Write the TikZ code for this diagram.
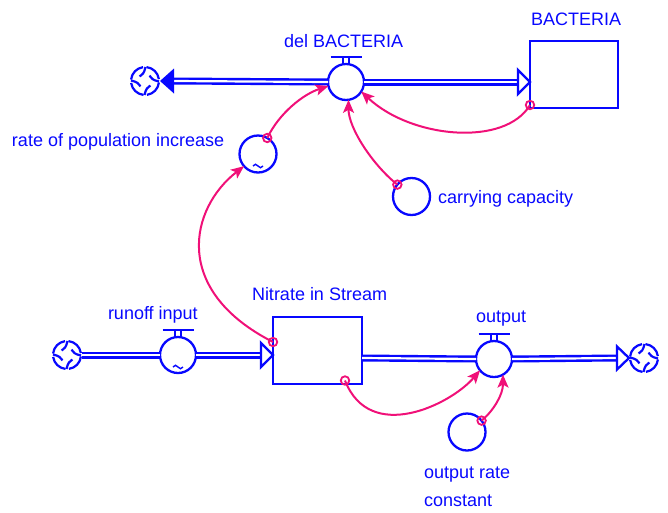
\documentclass[tikz,border=0pt]{standalone}
\usepackage{fontspec}
\setmainfont{Liberation Sans}
\usetikzlibrary{arrows.meta}
\definecolor{sblue}{RGB}{8,8,255}
\definecolor{spink}{RGB}{240,16,120}
\tikzset{
  lbl/.style={anchor=base west, inner sep=0pt, outer sep=0pt, text=sblue, font=\fontsize{18}{21}\selectfont},
  valve/.style={circle, draw=sblue, line width=2.3pt, fill=white, minimum size=36pt, inner sep=0pt, outer sep=0pt},
  conv/.style={circle, draw=sblue, line width=2.3pt, fill=white, minimum size=37pt, inner sep=0pt, outer sep=0pt},
  stock/.style={rectangle, draw=sblue, line width=2.6pt, fill=white, inner sep=0pt, outer sep=0pt},
  cloudspot/.style={circle, minimum size=30pt, inner sep=0pt, outer sep=0pt},
  pipe/.style={draw=sblue, line width=2.4pt, double=white, double distance=2.2pt},
  tri/.style={draw=sblue, line width=2.3pt, fill=white, line join=miter},
  conn/.style={draw=spink, line width=2pt, -{Stealth[length=13pt,width=11pt,inset=3pt]}},
  tap/.style={circle, draw=spink, line width=1.8pt, minimum size=8.5pt, inner sep=0pt, outer sep=0pt},
  tee/.pic={\draw[sblue, line width=1.6pt] (-3pt,0pt) -- (-3pt,7pt) (3pt,0pt) -- (3pt,7pt);
            \draw[sblue, line width=2.8pt] (-15.5pt,7pt) -- (15.5pt,7pt);},
  tild/.pic={\draw[sblue, line width=1.4pt] (-5pt,0pt) .. controls (-3.5pt,2.5pt) and (-1.5pt,2pt) .. (0pt,0pt) .. controls (1.5pt,-2pt) and (3.5pt,-2.5pt) .. (5pt,0pt);},
  cloudsym/.pic={
    \foreach \a in {0,90,180,270}{
      \begin{scope}[rotate=\a]
        \draw[sblue, line width=2.2pt] (8:14pt) arc (8:84:14pt);
        \draw[sblue, line width=2.2pt] (88:14pt) .. controls (95:8pt) and (115:6.5pt) .. (140:7pt);
      \end{scope}
    }
  }
}
\begin{document}
\begin{tikzpicture}[x=1pt,y=-1pt]
\path[use as bounding box] (0,0) rectangle (668,512);

% ---------- top flow ----------
\node[cloudspot] (cA) at (145,81) {};
\node[valve] (vB) at (346,82) {};
\node[stock, minimum width=88pt, minimum height=67pt] (bact) at (574,74.5) {};
\coordinate (inB) at (530,82);
\draw[pipe] ([xshift=14pt]cA.east) -- (vB.west);
\draw[pipe] (vB.east) -- ([xshift=-12pt]inB);
\fill[sblue] (cA.east) -- ([xshift=14pt,yshift=12.5pt]cA.east) -- ([xshift=14pt,yshift=-12.5pt]cA.east) -- cycle;
\draw[tri] ([xshift=-12pt,yshift=12pt]inB) -- (inB) -- ([xshift=-12pt,yshift=-12pt]inB) -- cycle;
\pic at (cA) {cloudsym};
\pic at (vB.north) {tee};

\node[lbl] (lbact) at (531,25) {BACTERIA};
\node[lbl] (ldel) at (284,47) {del BACTERIA};

% converters
\node[conv] (rate) at (258,154) {};
\pic at ([yshift=-12pt]rate.center) {tild};
\node[lbl] (lrate) at (12,146) {rate of population increase};
\node[conv] (cc) at (411.5,196.5) {};
\node[lbl] (lcc) at (438,203) {carrying capacity};

% ---------- bottom flow ----------
\node[cloudspot] (cC) at (67,355) {};
\node[valve] (vR) at (178,355) {};
\node[stock, minimum width=89pt, minimum height=67pt] (nit) at (317.5,350.5) {};
\coordinate (inN) at (273,355);
\draw[pipe] (cC.east) -- (vR.west);
\draw[pipe] (vR.east) -- ([xshift=-12pt]inN);
\draw[tri] ([xshift=-12pt,yshift=12pt]inN) -- (inN) -- ([xshift=-12pt,yshift=-12pt]inN) -- cycle;
\pic at (cC) {cloudsym};
\pic at (vR.north) {tee};
\pic at ([yshift=-12pt]vR.center) {tild};
\node[lbl] (lrun) at (108,319) {runoff input};
\node[lbl] (lnit) at (252,300) {Nitrate in Stream};

\node[valve] (vO) at (494,359) {};
\node[cloudspot] (cD) at (644,358) {};
\coordinate (outN) at (362,358);
\draw[pipe] (outN) -- (vO.west);
\draw[pipe] (vO.east) -- ([xshift=-12pt]cD.west);
\draw[tri] ([xshift=-12pt,yshift=11.5pt]cD.west) -- (cD.west) -- ([xshift=-12pt,yshift=-11.5pt]cD.west) -- cycle;
\pic at (cD) {cloudsym};
\pic at (vO.north) {tee};
\node[lbl] (lout) at (476,322) {output};

\node[conv] (orc) at (467,432) {};
\node[lbl] (lorc1) at (424,478) {output rate};
\node[lbl] (lorc2) at (424,506) {constant};

% ---------- connectors ----------
\draw[conn] ([yshift=3pt]bact.south west) node[tap] (k1) {} .. controls +(-25,42) and +(50,47) .. (vB.-32);
\draw[conn] (rate.60) node[tap] (k2) {} .. controls +(12,-25) and +(-25,8) .. (vB.193);
\draw[conn] (cc.140) node[tap] (k3) {} .. controls +(-25,-20) and +(0,28) .. (vB.-82);
\draw[conn] ([yshift=8.5pt]nit.west) node[tap] (k4) {} .. controls +(-102,-52) and +(-54,42) .. (rate.221);
\draw[conn] ([xshift=27.5pt,yshift=3.5pt]nit.south) node[tap] (k5) {} .. controls +(25,64) and +(-29,34) .. (vO.219);
\draw[conn] (orc.38) node[tap] (k6) {} .. controls +(12,-10) and +(0,20) .. (vO.-60);
\end{tikzpicture}
\end{document}
